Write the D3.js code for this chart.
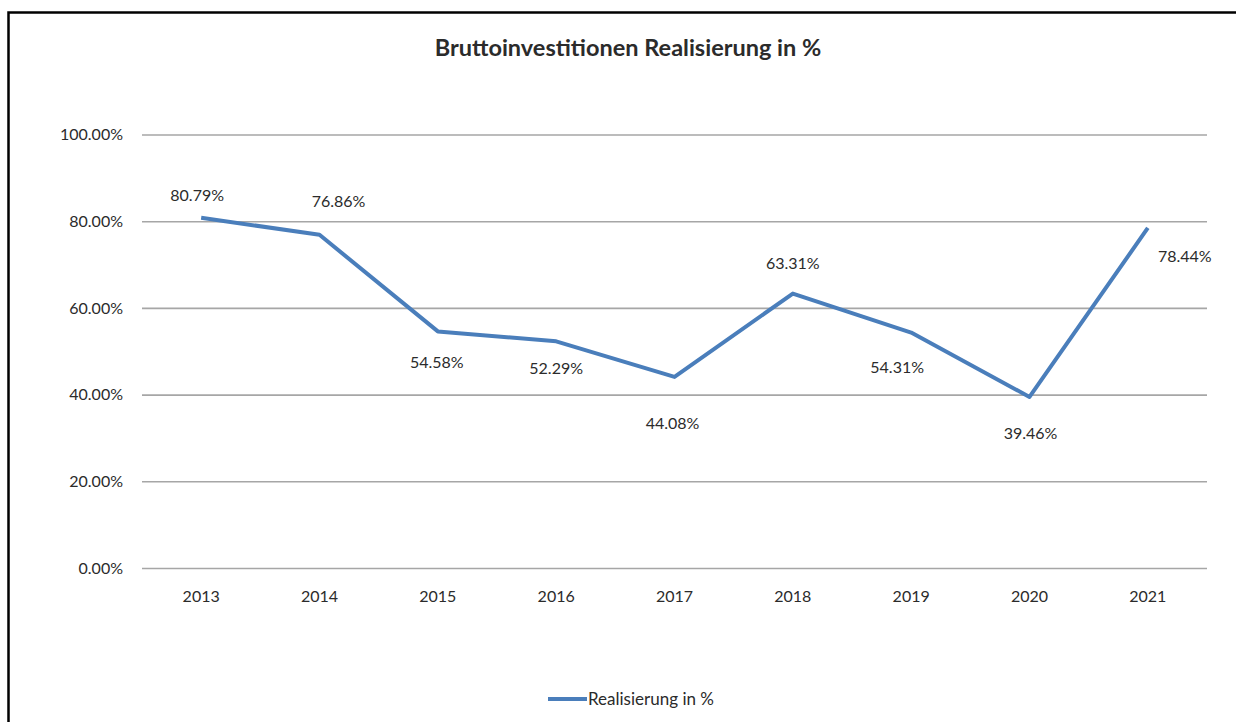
<!DOCTYPE html>
<html>
<head>
<meta charset="utf-8">
<script src="https://cdn.jsdelivr.net/npm/d3@7"></script>
<style>
  body { margin: 0; background: #fff; }
  text { font-family: Lato, "Open Sans", sans-serif; fill: #2b2b2b; }
</style>
</head>
<body>
<div id="chart"></div>
<script>
const years = ["2013", "2014", "2015", "2016", "2017", "2018", "2019", "2020", "2021"]
const realisierung = [0.8079, 0.7686, 0.5458, 0.5229, 0.4408, 0.6331, 0.5431, 0.3946, 0.7844]
const yTicks = [0, 0.2, 0.4, 0.6, 0.8, 1.0]
const title = "Bruttoinvestitionen Realisierung in %"
const seriesName = "Realisierung in %"

// hand placed label offsets, like the source chart
const labelDx = [-4, 19, -1, 0, -2, 0, -14, 1, 37]
const labelDy = [-22, -33, 31, 27, 46, -30, 35, 36, 28]

const chart = function (id) {
    const width = 1236
    const height = 722
    const margin = {top: 134.5, right: 29, bottom: 154, left: 142}
    const blue = "#4a7ebb"

    const svg = d3.select("#".concat(id))
        .append("svg")
        .attr("width", width)
        .attr("height", height)

    const layer_frame = svg.append("g")
    const layer_y_axis = svg.append("g")
    const layer_x_axis = svg.append("g")
    const layer_line = svg.append("g")
    const layer_labels = svg.append("g")
    const layer_legend = svg.append("g")
    const layer_title = svg.append("g")

    const x = d3.scaleBand()
        .domain(years)
        .range([margin.left, width - margin.right])

    const y = d3.scaleLinear()
        .domain([0, 1])
        .range([height - margin.bottom, margin.top])

    const cx = d => x(d) + x.bandwidth() / 2

    layer_frame
        .append("rect")
        .attr("x", 8.5)
        .attr("y", 12.5)
        .attr("width", width)
        .attr("height", height)
        .attr("fill", "none")
        .attr("stroke", "#000")
        .attr("stroke-width", 2.5)

    layer_y_axis
        .attr("transform", `translate(${margin.left},0)`)
        .call(d3.axisLeft(y)
            .tickValues(yTicks)
            .tickFormat(d3.format(".2%"))
            .tickSize(-(width - margin.right - margin.left))
            .tickPadding(19))
        .call(g => g.select(".domain").remove())
        .call(g => g.selectAll(".tick line").attr("stroke", "#a6a6a6").attr("stroke-width", 1.6))
        .call(g => g.selectAll(".tick text").style("font-size", "16px").attr("fill", "#2b2b2b"))

    layer_x_axis
        .attr("transform", `translate(0,${height - margin.bottom})`)
        .call(d3.axisBottom(x).tickSize(0).tickPadding(23))
        .call(g => g.select(".domain").remove())
        .call(g => g.selectAll(".tick text").style("font-size", "16px").attr("fill", "#2b2b2b"))

    const line = d3.line()
        .x((d, i) => cx(years[i]))
        .y(d => y(d))

    layer_line
        .append("path")
        .datum(realisierung)
        .attr("d", line)
        .attr("fill", "none")
        .attr("stroke", blue)
        .attr("stroke-width", 4)
        .attr("stroke-linejoin", "round")

    layer_labels
        .selectAll("text")
        .data(realisierung)
        .enter()
        .append("text")
        .attr("x", (d, i) => cx(years[i]) + labelDx[i])
        .attr("y", (d, i) => y(d) + labelDy[i])
        .attr("dy", "0.35em")
        .attr("text-anchor", "middle")
        .style("font-size", "16px")
        .attr("fill", "#2b2b2b")
        .text(d => d3.format(".2%")(d))

    const legend = layer_legend
        .append("g")
        .attr("transform", `translate(548,699)`)
    legend.append("line")
        .attr("x1", 0)
        .attr("x2", 39)
        .attr("stroke", blue)
        .attr("stroke-width", 4)
    legend.append("text")
        .attr("x", 40)
        .attr("dy", "0.35em")
        .style("font-size", "17px")
        .attr("fill", "#2b2b2b")
        .text(seriesName)

    layer_title
        .append("text")
        .attr("x", 628)
        .attr("y", 48)
        .attr("dy", "0.35em")
        .attr("text-anchor", "middle")
        .style("font-size", "23.5px")
        .style("font-weight", "bold")
        .attr("fill", "#111")
        .text(title)
}

chart("chart")
</script>
</body>
</html>
